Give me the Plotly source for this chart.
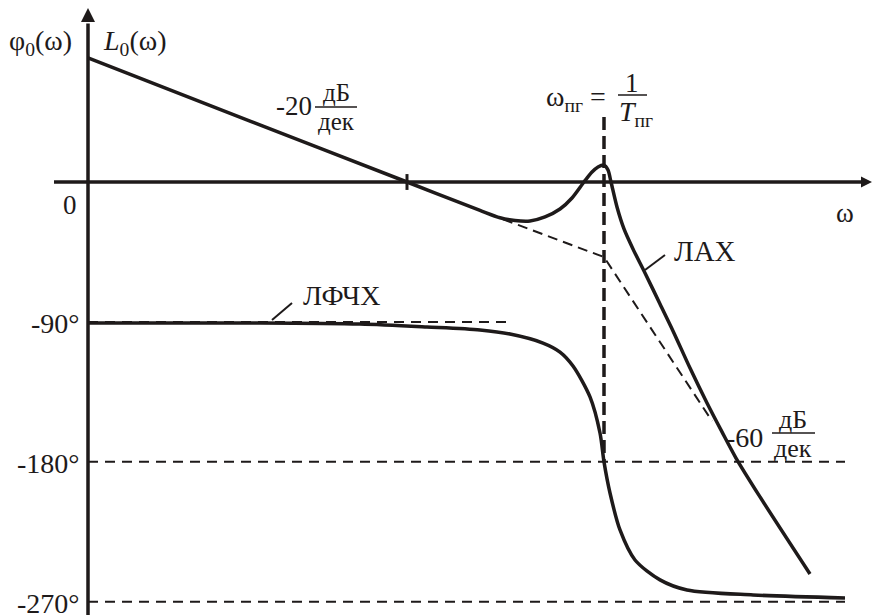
import plotly.graph_objects as go

# ---------------- data (x = lg ω in chart units, y = degrees / scaled dB) -------------
lgw_L = [0.0, 1.62, 3.19, 3.92, 4.12, 4.27, 4.42, 4.57, 4.72, 4.84, 4.96, 5.04, 5.10,
         5.16, 5.20, 5.23, 5.29, 5.36, 5.45, 5.57, 5.72, 5.85, 6.02, 6.19, 6.34, 6.48,
         6.72, 7.22]
L_vals = [79.8, 39.2, 0.0, -18.3, -23.0, -24.8, -25.1, -22.5, -17.4, -10.3, 0.0, 6.4, 9.7,
          10.9, 7.7, 0.0, -16.1, -30.2, -43.1, -58.5, -78.5, -95.8, -119.7, -142.2,
          -160.8, -177.6, -202.6, -252.2]

lgw_asym = [4.15, 5.16, 6.24]
L_asym = [-24.0, -48.3, -153.8]

lgw_phi = [0.0, 1.72, 2.72, 3.39, 3.92, 4.22, 4.55, 4.72, 4.85, 5.02, 5.12, 5.16, 5.22,
           5.32, 5.47, 5.72, 5.99, 6.65, 7.57]
phi_vals = [-90.7, -90.7, -91.4, -93.3, -95.2, -97.8, -103.6, -109.4, -118.4, -138.3,
            -161.5, -180.1, -200.1, -223.9, -243.2, -256.0, -262.5, -265.7, -267.6]

phase_levels = [-90, -180, -270]
phase_level_ends = [4.19, 7.57, 7.57]
phase_tick_labels = ["-90°", "-180°", "-270°"]

w_pg = 5.16          # resonance frequency (lg)
w_pg_top = 41.8
w_cut = 3.19         # crossover tick

X_RANGE = [-0.88, 7.84]
Y_RANGE = [-278.6, 117.1]
W, H = 872, 615
INK = "#1e1a1a"
FONT = "Liberation Serif"


def P(px, py):
    return px / W, 1 - py / H


fig = go.Figure()

# reference dashed phase levels
for lvl, xe in zip(phase_levels, phase_level_ends):
    fig.add_trace(go.Scatter(x=[0, xe], y=[lvl, lvl], mode="lines",
                             line=dict(color=INK, width=2, dash="10px,7px"), hoverinfo="skip"))

# asymptote
fig.add_trace(go.Scatter(x=lgw_asym, y=L_asym, mode="lines",
                         line=dict(color=INK, width=2, dash="10px,6px")))

# vertical dashed at ω_пг
fig.add_trace(go.Scatter(x=[w_pg, w_pg], y=[w_pg_top, -180], mode="lines",
                         line=dict(color=INK, width=3.5, dash="13px,6px")))

# axes
fig.add_trace(go.Scatter(x=[-0.34, 7.78], y=[0, 0], mode="lines",
                         line=dict(color=INK, width=3.5)))
fig.add_trace(go.Scatter(x=[0, 0], y=[Y_RANGE[0], 102], mode="lines",
                         line=dict(color=INK, width=3.5)))
fig.add_trace(go.Scatter(x=[7.84], y=[0], mode="markers",
                         marker=dict(symbol="arrow-right", size=11, color=INK)))
fig.add_trace(go.Scatter(x=[0], y=[112], mode="markers",
                         marker=dict(symbol="arrow-up", size=14, color=INK)))
# crossover tick
fig.add_trace(go.Scatter(x=[w_cut, w_cut], y=[5.1, -5.1], mode="lines",
                         line=dict(color=INK, width=3)))

# ЛАХ and ЛФЧХ
fig.add_trace(go.Scatter(x=lgw_L, y=L_vals, mode="lines", line_shape="spline",
                         line=dict(color=INK, width=3.5, smoothing=0.8)))
fig.add_trace(go.Scatter(x=lgw_phi, y=phi_vals, mode="lines", line_shape="spline",
                         line=dict(color=INK, width=3.5, smoothing=0.8)))

annots = []


def txt(s, px, py, size=26, xanchor="center", yanchor="middle", fam=FONT):
    x, y = P(px, py)
    annots.append(dict(text=s, x=x, y=y, xref="paper", yref="paper", showarrow=False,
                       xanchor=xanchor, yanchor=yanchor,
                       font=dict(family=fam, size=size, color=INK)))


shapes = []


def seg(x0, y0, x1, y1, w=2):
    a = P(x0, y0)
    b = P(x1, y1)
    shapes.append(dict(type="line", xref="paper", yref="paper", x0=a[0], y0=a[1],
                       x1=b[0], y1=b[1], line=dict(color=INK, width=w)))


txt("φ<sub>0</sub>(ω)", 40, 42, 28)
txt("<i>L</i><sub>0</sub>(ω)", 134, 42, 28)
txt("0", 70, 205, 27)
txt("ω", 845, 213, 27)
for lbl, lvl in zip(phase_tick_labels, phase_levels):
    py = 182 - lvl * 1.5544
    txt(lbl, 82, py + 2, 28, xanchor="right")

# -20 dB/dec
txt("-20", 314, 106, 27, xanchor="right")
txt("дБ", 336, 92, 25)
txt("дек", 336, 121, 25)
seg(315, 107, 357, 107, 1.5)

# -60 dB/dec
txt("-60", 765, 437, 28, xanchor="right")
txt("дБ", 793, 419, 26)
txt("дек", 793, 448, 26)
seg(772, 433, 815, 433, 1.5)

# ω_пг = 1/T_пг
txt("ω<sub>пг</sub> =", 608, 98, 28, xanchor="right")
txt("1", 632, 83, 27)
txt("<i>T</i><sub>пг</sub>", 636, 114, 28)
seg(618, 95, 647, 95, 1.5)

# labels with leaders
txt("ЛАХ", 705, 251, 29)
seg(645, 270, 665, 255, 2)
txt("ЛФЧХ", 341, 295, 28)
seg(272, 320, 292, 303, 2)

fig.update_layout(
    width=W, height=H, margin=dict(l=0, r=0, t=0, b=0),
    paper_bgcolor="white", plot_bgcolor="white", showlegend=False,
    font=dict(family=FONT),
    xaxis=dict(range=X_RANGE, visible=False, fixedrange=True),
    yaxis=dict(range=Y_RANGE, visible=False, fixedrange=True),
    annotations=annots, shapes=shapes,
)

fig.write_html("out.html", config={"displayModeBar": False},
               post_script="document.body.style.margin='0';"
                           "document.body.style.overflow='hidden';")
